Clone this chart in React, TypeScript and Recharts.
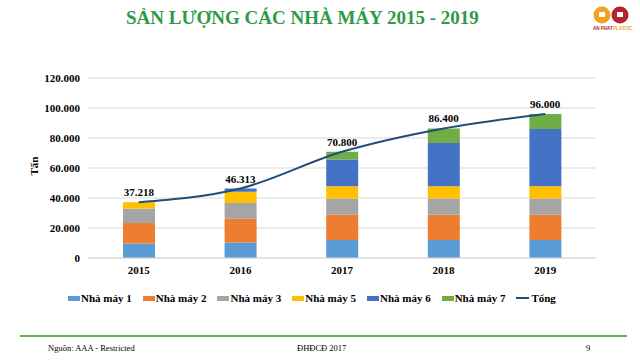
import { ComposedChart, Bar, Line, XAxis, YAxis, CartesianGrid, LabelList } from 'recharts';

const years = ['2015', '2016', '2017', '2018', '2019'];
const nhaMay1 = [9600, 10400, 12000, 12000, 12000];
const nhaMay2 = [13700, 15800, 16900, 16900, 16900];
const nhaMay3 = [9600, 10500, 10700, 10700, 10700];
const nhaMay5 = [4300, 7500, 8200, 8200, 8200];
const nhaMay6 = [0, 2100, 17800, 28900, 38200];
const nhaMay7 = [0, 0, 5200, 9700, 10000];
const tong = [37218, 46313, 70800, 86400, 96000];
const yTicks = [0, 20000, 40000, 60000, 80000, 100000, 120000];

const series = [
  { key: 'nm1', name: 'Nhà máy 1', color: '#5b9bd5', values: nhaMay1 },
  { key: 'nm2', name: 'Nhà máy 2', color: '#ed7d31', values: nhaMay2 },
  { key: 'nm3', name: 'Nhà máy 3', color: '#a5a5a5', values: nhaMay3 },
  { key: 'nm5', name: 'Nhà máy 5', color: '#ffc000', values: nhaMay5 },
  { key: 'nm6', name: 'Nhà máy 6', color: '#4472c4', values: nhaMay6 },
  { key: 'nm7', name: 'Nhà máy 7', color: '#70ad47', values: nhaMay7 },
];
const lineColor = '#1f4e79';

const data = years.map((year, i) => {
  const row: Record<string, string | number> = { year, tong: tong[i] };
  series.forEach(s => { row[s.key] = s.values[i]; });
  return row;
});

const serif = "'Liberation Serif', 'Times New Roman', serif";
const fmt = (v: number) => v === 0 ? '0' : v.toLocaleString('de-DE');

export default function App() {
  return (
    <div style={{ position: 'absolute', left: 0, top: 0, width: 640, height: 360, background: '#fff', fontFamily: serif, overflow: 'hidden' }}>
      <div style={{ position: 'absolute', left: 126, top: 7, fontSize: 19, fontWeight: 'bold', color: '#2e9a44', whiteSpace: 'nowrap' }}>
        SẢN LƯỢNG CÁC NHÀ MÁY 2015 - 2019
      </div>
      <svg style={{ position: 'absolute', left: 590, top: 4 }} width={46} height={30}>
        <circle cx={12} cy={11} r={8.5} fill="#f2a21e" />
        <circle cx={30} cy={11} r={8.5} fill="#b3242c" />
        <rect x={9} y={8} width={6} height={5} fill="#fff" />
        <rect x={27} y={8} width={6} height={5} fill="#fff" />
        <text x={3} y={26} fontSize={4.5} fontFamily="'Liberation Sans', sans-serif" fontWeight="bold" fill="#b3242c">AN PHAT</text>
        <text x={23} y={26} fontSize={4.5} fontFamily="'Liberation Sans', sans-serif" fontWeight="bold" fill="#f2a21e">PLASTIC</text>
      </svg>

      <div style={{ position: 'absolute', left: 0, top: 0 }}>
        <ComposedChart width={640} height={360} data={data} margin={{ top: 78, right: 44, bottom: 72, left: 0 }}>
          <CartesianGrid vertical={false} stroke="#d9d9d9" />
          <XAxis
            dataKey="year"
            axisLine={{ stroke: '#d9d9d9' }}
            tickLine={false}
            height={30}
            tick={{ fontSize: 11, fontWeight: 'bold', fill: '#000', fontFamily: serif }}
          />
          <YAxis
            width={88}
            domain={[0, 120000]}
            ticks={yTicks}
            axisLine={false}
            tickLine={false}
            tickFormatter={fmt}
            tick={{ fontSize: 11, fontWeight: 'bold', fill: '#000', fontFamily: serif }}
          />
          {series.map(s => (
            <Bar key={s.key} dataKey={s.key} name={s.name} stackId="a" fill={s.color} barSize={32} isAnimationActive={false} />
          ))}
          <Line type="monotone" dataKey="tong" name="Tổng" stroke={lineColor} strokeWidth={2} dot={false} isAnimationActive={false}>
            <LabelList dataKey="tong" position="top" offset={6} formatter={(v: any) => fmt(Number(v))}
              style={{ fontSize: 11, fontWeight: 'bold', fill: '#000', fontFamily: serif }} />
          </Line>
        </ComposedChart>
      </div>

      <div style={{ position: 'absolute', left: 25, top: 160, transform: 'rotate(-90deg)', fontSize: 11, fontWeight: 'bold' }}>Tấn</div>

      <div style={{ position: 'absolute', left: 68, top: 292, display: 'flex', alignItems: 'center', fontSize: 11, fontWeight: 'bold', whiteSpace: 'nowrap' }}>
        {series.map(s => (
          <div key={s.key} style={{ display: 'flex', alignItems: 'center', marginRight: 11 }}>
            <span style={{ display: 'inline-block', width: 12, height: 5, background: s.color, marginRight: 1 }} />
            <span>{s.name}</span>
          </div>
        ))}
        <div style={{ display: 'flex', alignItems: 'center' }}>
          <span style={{ display: 'inline-block', width: 13, height: 2, background: lineColor, marginRight: 2 }} />
          <span>Tổng</span>
        </div>
      </div>

      <div style={{ position: 'absolute', left: 20, top: 335, width: 607, height: 2, background: '#6ab04c' }} />
      <div style={{ position: 'absolute', left: 48, top: 343, fontSize: 8.5 }}>Nguồn: AAA - Restricted</div>
      <div style={{ position: 'absolute', left: 297, top: 343, fontSize: 8.5 }}>ĐHĐCĐ 2017</div>
      <div style={{ position: 'absolute', left: 586, top: 343, fontSize: 8.5 }}>9</div>
    </div>
  );
}
